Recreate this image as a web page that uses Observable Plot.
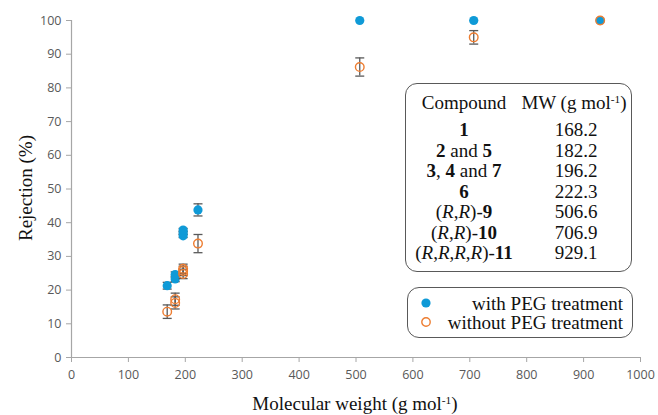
<!DOCTYPE html>
<html><head><meta charset="utf-8">
<script src="https://cdn.jsdelivr.net/npm/d3@7"></script>
<script src="https://cdn.jsdelivr.net/npm/@observablehq/plot@0.6"></script>
<style>
body{margin:0;background:#fff;}
#wrap{position:relative;width:658px;height:415px;overflow:hidden;background:#fff;}
.serif{font-family:"Liberation Serif","Times New Roman",serif;color:#111;}
#ylab{position:absolute;left:26px;top:188px;transform:translate(-50%,-50%) rotate(-90deg);font-size:19px;white-space:nowrap;}
#xlab{position:absolute;left:355px;top:404px;transform:translate(-50%,-50%);font-size:19px;white-space:nowrap;}
sup{font-size:0.6em;vertical-align:0.55em;line-height:0;}
#tbl{position:absolute;left:405px;top:83px;width:227px;height:189px;border:1.6px solid #595959;border-radius:12px;box-sizing:border-box;}
.cell{position:absolute;width:150px;text-align:center;font-size:19px;line-height:20px;white-space:nowrap;transform:translateY(-50%);}
#leg{position:absolute;left:407px;top:287px;width:226px;height:51px;border:1.6px solid #595959;border-radius:12px;box-sizing:border-box;}
.lrow{position:absolute;right:9px;font-size:19px;line-height:20px;white-space:nowrap;transform:translateY(-50%);}
.lmark{position:absolute;left:12px;transform:translateY(-50%);}
</style></head>
<body>
<div id="wrap" class="serif">
  <div id="plot"></div>
  <div id="ylab">Rejection (%)</div>
  <div id="xlab">Molecular weight (g mol<sup>-1</sup>)</div>
  <div id="tbl"></div>
  <div id="leg"></div>
</div>
<script>
// Data
const mw = [168.2, 182.2, 182.2, 196.2, 196.2, 196.2, 222.3, 506.6, 706.9, 929.1];
const rejectionWithPEG = [21.3, 23.3, 24.6, 36.1, 37.0, 37.8, 43.8, 100, 100, 100];
const errorWithPEG = [1.0, 0.8, 0.8, 0.5, 0.5, 0.5, 1.8, 0, 0, 0];
const rejectionWithoutPEG = [13.6, 16.2, 17.3, 24.8, 25.7, 26.3, 33.8, 86.2, 95.0, 100];
const errorWithoutPEG = [2.0, 1.8, 1.8, 1.4, 1.4, 1.4, 2.7, 2.7, 2.0, 0];
const xTicks = [0, 100, 200, 300, 400, 500, 600, 700, 800, 900, 1000];
const yTicks = [0, 10, 20, 30, 40, 50, 60, 70, 80, 90, 100];
const compoundLabels = ["<b>1</b>", "<b>2</b> and <b>5</b>", "<b>3</b>, <b>4</b> and <b>7</b>", "<b>6</b>",
  "(<i>R</i>,<i>R</i>)-<b>9</b>", "(<i>R</i>,<i>R</i>)-<b>10</b>", "(<i>R</i>,<i>R</i>,<i>R</i>,<i>R</i>)-<b>11</b>"];
const compoundMW = ["168.2", "182.2", "196.2", "222.3", "506.6", "706.9", "929.1"];
const seriesNames = ["with PEG treatment", "without PEG treatment"];
const blue = "#0f9ad7", orange = "#ed7d31", errColor = "#595959";

const withData = mw.map((x, i) => ({x, y: rejectionWithPEG[i], e: errorWithPEG[i]}));
const withoutData = mw.map((x, i) => ({x, y: rejectionWithoutPEG[i], e: errorWithoutPEG[i]}));
const cap = {draw(ctx) { ctx.moveTo(-4.5, 0); ctx.lineTo(4.5, 0); }};
const errMarks = (data) => {
  const d = data.filter(p => p.e > 0);
  return [
    Plot.ruleX(d, {x: "x", y1: p => p.y - p.e, y2: p => p.y + p.e, stroke: errColor, strokeWidth: 1.3}),
    Plot.dot(d, {x: "x", y: p => p.y + p.e, symbol: cap, stroke: errColor, strokeWidth: 1.3}),
    Plot.dot(d, {x: "x", y: p => p.y - p.e, symbol: cap, stroke: errColor, strokeWidth: 1.3})
  ];
};

const chart = Plot.plot({
  width: 658, height: 415,
  marginLeft: 71, marginRight: 18, marginTop: 20, marginBottom: 58,
  x: {domain: [0, 1000]},
  y: {domain: [0, 100]},
  style: {fontFamily: "Open Sans", fontSize: "12.5px", background: "white", overflow: "visible"},
  marks: [
    Plot.axisY({ticks: yTicks, tickFormat: d => String(d), tickSize: 5, tickPadding: 5, label: null, stroke: "#a6a6a6", fill: "#595959"}),
    Plot.axisX({ticks: xTicks, tickFormat: d => String(d), tickSize: 5, tickPadding: 8, label: null, stroke: "#a6a6a6", fill: "#595959"}),
    Plot.ruleX([0], {stroke: "#a6a6a6", strokeWidth: 1.2}),
    Plot.ruleY([0], {stroke: "#a6a6a6", strokeWidth: 1.2}),
    ...errMarks(withData),
    Plot.dot(withData, {x: "x", y: "y", r: 4.6, fill: blue}),
    ...errMarks(withoutData),
    Plot.dot(withoutData, {x: "x", y: "y", r: 4.3, stroke: orange, strokeWidth: 1.4, fill: "none"})
  ]
});
document.getElementById("plot").appendChild(chart);

// Table
const tbl = document.getElementById("tbl");
function cell(html, cx, cy) {
  const d = document.createElement("div");
  d.className = "cell";
  d.innerHTML = html;
  d.style.left = (cx - 75) + "px";
  d.style.top = cy + "px";
  tbl.appendChild(d);
}
cell("Compound", 58, 19);
cell("MW (g mol<sup>-1</sup>)", 168, 19);
compoundLabels.forEach((c, i) => {
  const cy = 46 + i * 20.5;
  cell(c, 58, cy);
  cell(compoundMW[i], 170, cy);
});

// Legend
const leg = document.getElementById("leg");
seriesNames.forEach((name, i) => {
  const cy = 16 + i * 19;
  const r = document.createElement("div");
  r.className = "lrow"; r.textContent = name; r.style.top = cy + "px";
  leg.appendChild(r);
  const m = document.createElement("div");
  m.className = "lmark"; m.style.top = cy + "px";
  m.innerHTML = i === 0
    ? `<svg width="12" height="12"><circle cx="6" cy="6" r="4.6" fill="${blue}"/></svg>`
    : `<svg width="12" height="12"><circle cx="6" cy="6" r="4.2" fill="none" stroke="${orange}" stroke-width="1.4"/></svg>`;
  leg.appendChild(m);
});
</script>
</body></html>
